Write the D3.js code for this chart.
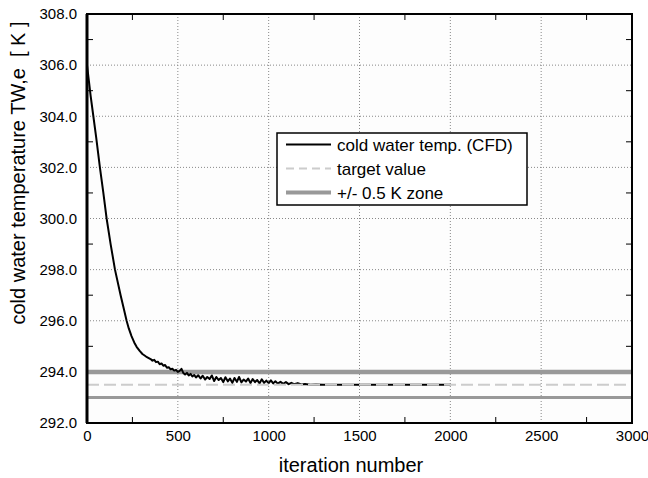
<!DOCTYPE html>
<html>
<head>
<meta charset="utf-8">
<script src="https://cdn.jsdelivr.net/npm/d3@7"></script>
<style>
  body { margin: 0; background: #fff; }
  text { font-family: "Liberation Sans", Arial, sans-serif; fill: #000; }
</style>
</head>
<body>
<script>
// data
var iterations = [0, 10, 20, 35, 50, 71, 90, 108, 130, 154, 185, 200, 218, 230, 245, 260, 273, 290, 305, 325,
  350, 360, 370, 380, 390, 400, 410, 420, 430, 440, 450, 460, 470, 480, 490, 500,
  510, 520, 530, 540, 550, 560, 570, 580, 590, 600, 612, 625, 637, 650, 662, 675, 687,
  700, 712, 725, 737, 750, 762, 775, 787, 800, 812, 825, 837, 850, 862, 875, 887, 900,
  912, 925, 937, 950, 962, 975, 987, 1000, 1012, 1025, 1037, 1050, 1065, 1080, 1095,
  1110, 1125, 1140, 1160, 1180, 1200, 1230, 1260, 1300, 2000];
var temps = [306.0, 305.4, 304.8, 304.0, 303.2, 302.0, 301.0, 300.0, 299.0, 298.0, 297.0, 296.55, 296.0, 295.7, 295.4, 295.15, 294.98, 294.82, 294.7, 294.6,
  294.50, 294.44, 294.47, 294.38, 294.40, 294.30, 294.33, 294.24, 294.27, 294.16, 294.18, 294.10, 294.12, 294.05, 294.08, 294.00,
  294.04, 294.12, 293.96, 293.90, 293.96, 293.86, 293.92, 293.82, 293.88, 293.78, 293.87, 293.74, 293.85, 293.70, 293.80, 293.72, 293.86,
  293.64, 293.80, 293.68, 293.76, 293.60, 293.79, 293.63, 293.74, 293.57, 293.76, 293.61, 293.80, 293.59, 293.70, 293.62, 293.74, 293.56,
  293.72, 293.60, 293.68, 293.55, 293.71, 293.57, 293.66, 293.56, 293.67, 293.55, 293.63, 293.54, 293.61, 293.53, 293.60,
  293.52, 293.57, 293.52, 293.56, 293.51, 293.53, 293.50, 293.51, 293.50, 293.50];
var targetValue = 293.5;
var zoneLimits = [294.0, 293.0];
var yTicks = [292, 294, 296, 298, 300, 302, 304, 306, 308];
var xTicks = [0, 500, 1000, 1500, 2000, 2500, 3000];
var legendLabels = ["cold water temp. (CFD)", "target value", "+/- 0.5 K zone"];

var width = 648, height = 478;
var margins = { top: 14, bottom: 55, right: 16, left: 87 };
var plotWidth = width - margins.left - margins.right;
var plotHeight = height - margins.top - margins.bottom;

var svg = d3.select("body").append("svg")
  .attr("width", width)
  .attr("height", height);

var xScale = d3.scaleLinear().domain([0, 3000]).range([0, plotWidth]);
var yScale = d3.scaleLinear().domain([292, 308]).range([plotHeight, 0]);

var plot = svg.append("g")
  .attr("transform", "translate(" + margins.left + "," + margins.top + ")");

plot.append("rect")
  .attr("width", plotWidth).attr("height", plotHeight)
  .attr("fill", "#fdfdfd");

// grid
plot.append("g").selectAll("line").data(xTicks.slice(1, -1)).enter().append("line")
  .attr("x1", d => xScale(d)).attr("x2", d => xScale(d))
  .attr("y1", 0).attr("y2", plotHeight)
  .attr("stroke", "#888").attr("stroke-width", 1).attr("stroke-dasharray", "1,2");
plot.append("g").selectAll("line").data(yTicks.slice(1, -1)).enter().append("line")
  .attr("x1", 0).attr("x2", plotWidth)
  .attr("y1", d => yScale(d)).attr("y2", d => yScale(d))
  .attr("stroke", "#888").attr("stroke-width", 1).attr("stroke-dasharray", "1,2");

// minor ticks on all four sides, pointing inward
var minorX = d3.range(250, 3000, 500);
var minorY = d3.range(293, 308, 2);
var tickLen = 6;
var tickG = plot.append("g").attr("stroke", "#000").attr("stroke-width", 1);
minorX.forEach(function(d) {
  tickG.append("line").attr("x1", xScale(d)).attr("x2", xScale(d)).attr("y1", plotHeight).attr("y2", plotHeight - tickLen);
  tickG.append("line").attr("x1", xScale(d)).attr("x2", xScale(d)).attr("y1", 0).attr("y2", tickLen);
});
minorY.forEach(function(d) {
  tickG.append("line").attr("x1", 0).attr("x2", tickLen).attr("y1", yScale(d)).attr("y2", yScale(d));
  tickG.append("line").attr("x1", plotWidth).attr("x2", plotWidth - tickLen).attr("y1", yScale(d)).attr("y2", yScale(d));
});

// zone + target
plot.append("line")
  .attr("x1", xScale(0)).attr("x2", xScale(3000))
  .attr("y1", yScale(zoneLimits[0])).attr("y2", yScale(zoneLimits[0]))
  .attr("stroke", "#999").attr("stroke-width", 4.5);
plot.append("line")
  .attr("x1", xScale(0)).attr("x2", xScale(3000))
  .attr("y1", yScale(zoneLimits[1])).attr("y2", yScale(zoneLimits[1]))
  .attr("stroke", "#999").attr("stroke-width", 3);

// CFD curve
var line = d3.line()
  .x(function(d, i) { return xScale(iterations[i]); })
  .y(function(d) { return yScale(d); });
plot.append("path")
  .datum(temps)
  .attr("d", line)
  .attr("fill", "none")
  .attr("stroke", "#000")
  .attr("stroke-width", 2)
  .attr("stroke-linejoin", "round");

plot.append("line")
  .attr("x1", xScale(0)).attr("x2", xScale(3000))
  .attr("y1", yScale(targetValue)).attr("y2", yScale(targetValue))
  .attr("stroke", "#ccc").attr("stroke-width", 2).attr("stroke-dasharray", "12,5");

// frame
plot.append("rect")
  .attr("width", plotWidth).attr("height", plotHeight)
  .attr("fill", "none").attr("stroke", "#000").attr("stroke-width", 2);
plot.append("line").attr("x1", 0).attr("x2", 0).attr("y1", 0).attr("y2", plotHeight)
  .attr("stroke", "#000").attr("stroke-width", 3);

// tick labels via d3 axes (no domain, no tick marks)
var yAxis = d3.axisLeft(yScale).tickValues(yTicks).tickFormat(d3.format(".1f")).tickSize(0).tickPadding(10);
var yG = plot.append("g").call(yAxis);
yG.select(".domain").remove();
yG.selectAll("text").style("font-size", "15px").style("font-family", "Liberation Sans, Arial, sans-serif");

var xAxis = d3.axisBottom(xScale).tickValues(xTicks).tickFormat(d3.format("d")).tickSize(0).tickPadding(7);
var xG = plot.append("g").attr("transform", "translate(0," + plotHeight + ")").call(xAxis);
xG.select(".domain").remove();
xG.selectAll("text").style("font-size", "15px").style("font-family", "Liberation Sans, Arial, sans-serif");

// axis titles
svg.append("text")
  .attr("x", 351).attr("y", 472)
  .attr("text-anchor", "middle")
  .style("font-size", "20px")
  .text("iteration number");
svg.append("text")
  .attr("transform", "translate(25,173) rotate(-90)")
  .attr("text-anchor", "middle")
  .style("font-size", "20px")
  .style("white-space", "pre")
  .text("cold water temperature TW,e  [ K ]");

// legend
var legend = svg.append("g").attr("transform", "translate(277,133)");
legend.append("rect")
  .attr("width", 250).attr("height", 72)
  .attr("fill", "#fff").attr("stroke", "#000").attr("stroke-width", 1.5);
var legendStyles = [
  { stroke: "#000", width: 2, dash: null },
  { stroke: "#ccc", width: 2, dash: "8,5" },
  { stroke: "#999", width: 4, dash: null }
];
legendLabels.forEach(function(d, i) {
  var y = 11.5 + i * 24;
  legend.append("line")
    .attr("x1", 9).attr("x2", 54).attr("y1", y).attr("y2", y)
    .attr("stroke", legendStyles[i].stroke)
    .attr("stroke-width", legendStyles[i].width)
    .attr("stroke-dasharray", legendStyles[i].dash);
  legend.append("text")
    .attr("x", 60).attr("y", y + 6)
    .style("font-size", "17px")
    .text(d);
});
</script>
</body>
</html>
